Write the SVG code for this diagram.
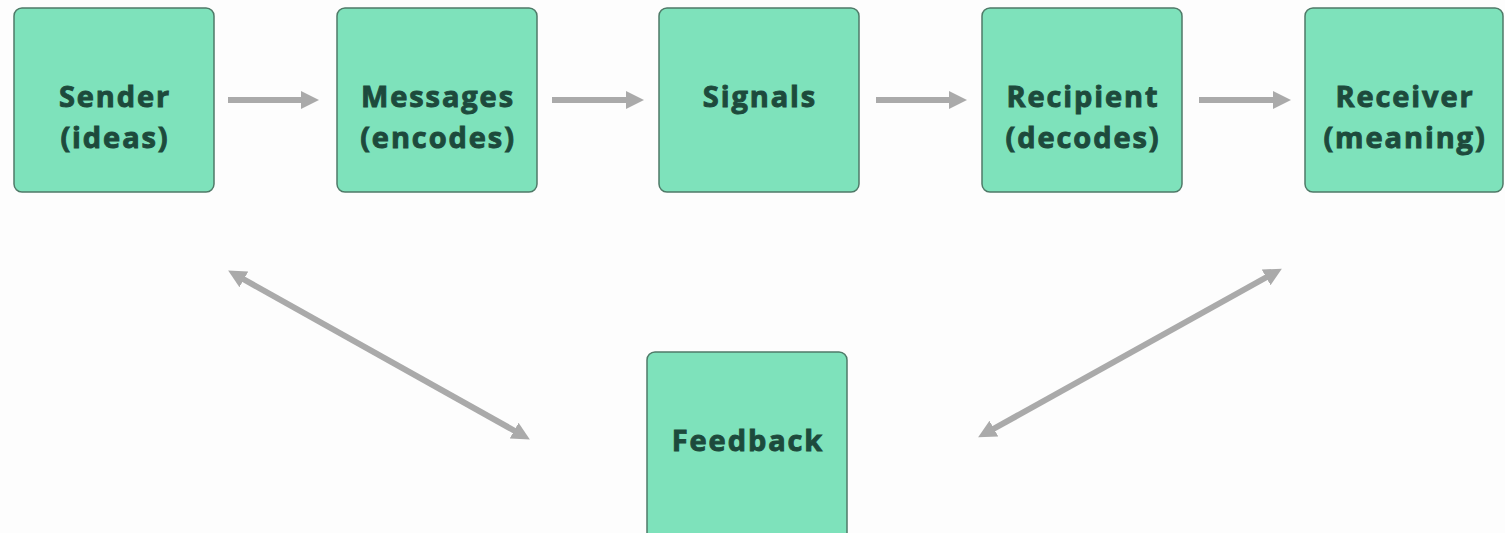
<svg xmlns="http://www.w3.org/2000/svg" width="1505" height="533" viewBox="0 0 1505 533">
<defs>
<style>
.box{fill:#7ee2bb;stroke:#4f7a68;stroke-width:1.5}
.t{font-family:"Open Sans","Noto Sans",sans-serif;font-weight:bold;font-size:29px;letter-spacing:1.9px;fill:#1d4a3c;stroke:#1d4a3c;stroke-width:0.9px;text-anchor:middle}
.c{stroke:#aaaaaa;stroke-width:6;fill:none}
</style>
<marker id="ah" viewBox="0 0 10 10" refX="5" refY="5" markerWidth="3" markerHeight="3" orient="auto-start-reverse" markerUnits="strokeWidth">
<path d="M0,0 L10,5 L0,10 z" fill="#aaaaaa"/>
</marker>
</defs>
<rect width="1505" height="533" fill="#fdfdfd"/>
<g id="connectors">
<line class="c" x1="228" y1="100" x2="310" y2="100" marker-end="url(#ah)"/>
<line class="c" x1="552" y1="100" x2="635" y2="100" marker-end="url(#ah)"/>
<line class="c" x1="876" y1="100" x2="958" y2="100" marker-end="url(#ah)"/>
<line class="c" x1="1199" y1="100" x2="1282" y2="100" marker-end="url(#ah)"/>
<line class="c" x1="236" y1="275" x2="522" y2="435" marker-start="url(#ah)" marker-end="url(#ah)"/>
<line class="c" x1="1274" y1="273" x2="986" y2="433" marker-start="url(#ah)" marker-end="url(#ah)"/>
</g>
<g id="sender"><rect class="box" x="14" y="8" width="200" height="184" rx="8"/><text class="t" x="115" y="107">Sender</text><text class="t" x="115" y="148">(ideas)</text></g>
<g id="messages"><rect class="box" x="337" y="8" width="200" height="184" rx="8"/><text class="t" x="438" y="107">Messages</text><text class="t" x="438" y="148">(encodes)</text></g>
<g id="signals"><rect class="box" x="659" y="8" width="200" height="184" rx="8"/><text class="t" x="760" y="107">Signals</text></g>
<g id="recipient"><rect class="box" x="982" y="8" width="200" height="184" rx="8"/><text class="t" x="1083" y="107">Recipient</text><text class="t" x="1083" y="148">(decodes)</text></g>
<g id="receiver"><rect class="box" x="1305" y="8" width="198" height="184" rx="8"/><text class="t" x="1405" y="107">Receiver</text><text class="t" x="1405" y="148">(meaning)</text></g>
<g id="feedback"><rect class="box" x="647" y="352" width="200" height="190" rx="8"/><text class="t" x="748" y="451">Feedback</text></g>
</svg>
